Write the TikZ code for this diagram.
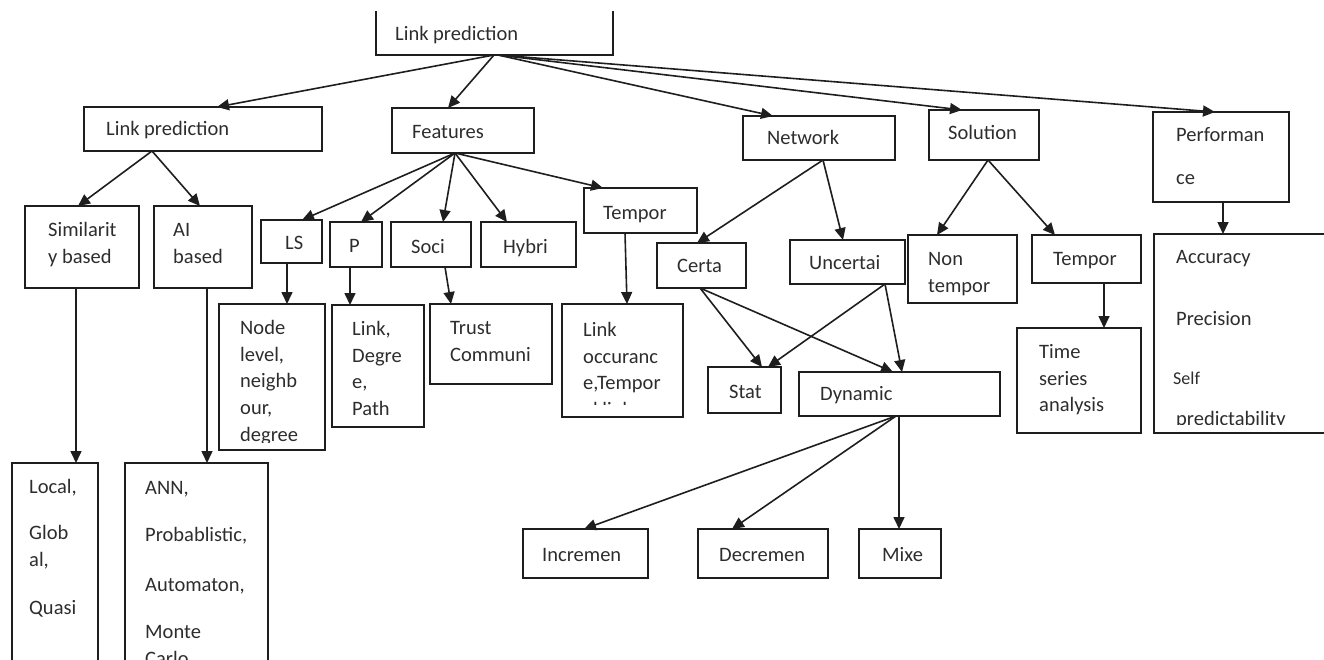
\documentclass[tikz,border=0pt]{standalone}
\usepackage{fontspec}
\setmainfont{Carlito}
\usetikzlibrary{arrows.meta}
\definecolor{ink}{RGB}{30,30,30}
\definecolor{txt}{RGB}{45,45,45}
% box with corners (x1,y1)-(x2,y2), y measured downwards
\newcommand\bx[5]{\node[box, minimum width={#4-#2}, minimum height={#5-#3}] (#1) at (#2,#3) {};}
\newcommand\lines[1]{\begin{tabular}[t]{@{}l@{}}#1\end{tabular}}
\newcommand\lbl[4]{\node[lbl] (#1) at (#2,#3) {\lines{#4}};}
\tikzset{
  box/.style={draw=ink, line width=1.8pt, anchor=north west, inner sep=0pt, outer sep=0pt},
  openbox/.style={anchor=north west, inner sep=0pt, outer sep=0pt},
  lbl/.style={anchor=mid west, yshift=-4pt, inner sep=0pt, text=txt, font=\fontsize{20.5}{26.75}\selectfont},
  arr/.style={draw=ink, line width=1.6pt, -{Triangle[length=12pt,width=11pt]}},
  edge/.style={draw=ink, line width=1.8pt}
}
\begin{document}
\begin{tikzpicture}[x=1pt,y=-1pt]
\useasboundingbox (0,0) rectangle (1324,659);
\clip (0,0) rectangle (1324,659);

% root
\node[openbox, minimum width=237, minimum height=44] (top) at (376,11) {};
\draw[edge] (top.north west) -- (top.south west) -- (top.south east) -- (top.north east);
\lbl{ttop}{395}{34}{Link prediction}

% first level
\bx{l2}{84}{107}{322}{151}
\lbl{tl2}{106}{129}{Link prediction}
\bx{feat}{392}{108}{534}{153}
\lbl{tfeat}{412}{132}{Features}
\bx{net}{743}{116}{895}{160}
\lbl{tnet}{767}{138}{Network}
\bx{sol}{929}{110}{1039}{160}
\lbl{tsol}{948}{133}{Solution}
\bx{perf}{1153}{112}{1289}{202}
\lbl{tperf}{1176}{135}{Performan\\[16pt]ce}

% link prediction branch
\bx{sim}{25}{206}{139}{288}
\lbl{tsim}{48}{230}{Similarit\\y based}
\bx{ai}{154}{206}{252}{288}
\lbl{tai}{173}{230}{AI\\based}
\bx{loc}{12}{463}{98}{700}
\lbl{tloc}{29}{487}{Local,\\[19.25pt]Glob\\al,\\[21.25pt]Quasi}
\bx{ann}{125}{463}{268}{700}
\lbl{tann}{145}{488}{ANN,\\[20.25pt]Probablistic,\\[23.25pt]Automaton,\\[20.25pt]Monte\\Carlo}

% features branch
\bx{ls}{261}{220}{322}{263}
\lbl{tls}{285}{243}{LS}
\bx{pp}{330}{222}{382}{267}
\lbl{tpp}{349}{246}{P}
\bx{soci}{391}{222}{471}{267}
\lbl{tsoci}{411}{247}{Soci}
\bx{hyb}{481}{222}{576}{267}
\lbl{thyb}{503}{247}{Hybri}
\bx{tmpa}{584}{188}{697}{233}
\lbl{ttmpa}{603}{213}{Tempor}

\bx{nlev}{219}{304}{325}{450}
\begin{scope}
  \clip (219,304) rectangle (325,442);
  \lbl{tnlev}{240}{328}{Node\\level,\\neighb\\our,\\degree}
\end{scope}
\bx{ldp}{332}{305}{424}{427}
\lbl{tldp}{352}{329}{Link,\\Degre\\e,\\Path}
\bx{trust}{430}{304}{552}{384}
\lbl{ttrust}{450}{328}{Trust\\Communi}
\bx{locc}{562}{304}{683}{417}
\begin{scope}
  \clip (562,304) rectangle (683,404);
  \lbl{tlocc}{583}{330}{Link\\occuranc\\e,Tempor\\al link}
\end{scope}

% network branch
\bx{cer}{657}{243}{746}{288}
\lbl{tcer}{677}{266}{Certa}
\bx{unc}{790}{240}{905}{284}
\lbl{tunc}{809}{263}{Uncertai}
\bx{stat}{708}{367}{781}{413}
\lbl{tstat}{729}{392}{Stat}
\bx{dyn}{799}{372}{1000}{416}
\lbl{tdyn}{820}{394}{Dynamic}
\bx{inc}{523}{529}{648}{578}
\lbl{tinc}{542}{555}{Incremen}
\bx{dec}{698}{529}{828}{578}
\lbl{tdec}{719}{555}{Decremen}
\bx{mix}{859}{529}{941}{578}
\lbl{tmix}{882}{555}{Mixe}

% solution branch
\bx{nont}{908}{235}{1017}{303}
\lbl{tnont}{928}{259}{Non\\tempor}
\bx{tmpb}{1032}{235}{1141}{283}
\lbl{ttmpb}{1053}{259}{Tempor}
\bx{tsa}{1017}{328}{1141}{433}
\lbl{ttsa}{1039}{352}{Time\\series\\analysis}

% performance branch
\bx{acc}{1154}{234}{1340}{433}
\lbl{tacc}{1176}{257}{Accuracy\\[35.25pt]Precision}
\node[lbl, font=\fontsize{18}{20}\selectfont] (tself) at (1173,378) {Self};
\begin{scope}
  \clip (1154,234) rectangle (1340,424);
  \lbl{tpred}{1176}{419}{predictability}
\end{scope}

% connectors
\draw[arr] ([xshift=118]top.south west) -- ([xshift=133]l2.north west);
\draw[arr] ([xshift=118]top.south west) -- ([xshift=56]feat.north west);
\draw[arr] ([xshift=122]top.south west) -- ([xshift=30]net.north west);
\draw[arr] ([xshift=122]top.south west) -- ([xshift=33]sol.north west);
\draw[arr] ([xshift=122]top.south west) -- ([xshift=62]perf.north west);

\draw[arr] ([xshift=68]l2.south west) -- ([xshift=53]sim.north west);
\draw[arr] ([xshift=68]l2.south west) -- ([xshift=46]ai.north west);
\draw[arr] ([xshift=51]sim.south west) -- ([xshift=64]loc.north west);
\draw[arr] ([xshift=53]ai.south west) -- ([xshift=82]ann.north west);

\draw[arr] ([xshift=63]feat.south west) -- ([xshift=41]ls.north west);
\draw[arr] ([xshift=63]feat.south west) -- ([xshift=31]pp.north west);
\draw[arr] ([xshift=63]feat.south west) -- ([xshift=52]soci.north west);
\draw[arr] ([xshift=63]feat.south west) -- ([xshift=26]hyb.north west);
\draw[arr] ([xshift=63]feat.south west) -- ([xshift=19]tmpa.north west);
\draw[arr] ([xshift=26]ls.south west) -- ([xshift=68]nlev.north west);
\draw[arr] ([xshift=20]pp.south west) -- ([xshift=18]ldp.north west);
\draw[arr] ([xshift=54]soci.south west) -- ([xshift=21]trust.north west);
\draw[arr] ([xshift=41]tmpa.south west) -- ([xshift=65]locc.north west);

\draw[arr] ([xshift=80]net.south west) -- ([xshift=40]cer.north west);
\draw[arr] ([xshift=80]net.south west) -- ([xshift=53]unc.north west);
\draw[arr] ([xshift=43]cer.south west) -- ([xshift=54]stat.north west);
\draw[arr] ([xshift=43]cer.south west) -- ([xshift=94]dyn.north west);
\draw[arr] ([xshift=95]unc.south west) -- ([xshift=60]stat.north west);
\draw[arr] ([xshift=95]unc.south west) -- ([xshift=103]dyn.north west);
\draw[arr] ([xshift=97]dyn.south west) -- ([xshift=61]inc.north west);
\draw[arr] ([xshift=97]dyn.south west) -- ([xshift=34]dec.north west);
\draw[arr] ([xshift=100]dyn.south west) -- ([xshift=40]mix.north west);

\draw[arr] ([xshift=59]sol.south west) -- ([xshift=29]nont.north west);
\draw[arr] ([xshift=59]sol.south west) -- ([xshift=23]tmpb.north west);
\draw[arr] ([xshift=72]tmpb.south west) -- ([xshift=87]tsa.north west);
\draw[arr] ([xshift=70]perf.south west) -- ([xshift=69]acc.north west);
\end{tikzpicture}
\end{document}
